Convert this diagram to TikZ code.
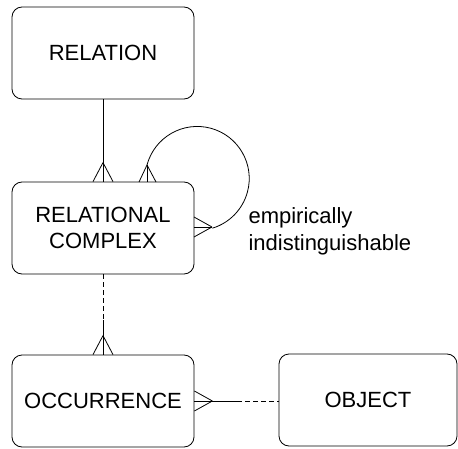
\documentclass[tikz,border=0pt]{standalone}
\usepackage{fontspec}
\setmainfont{Liberation Sans}
\usetikzlibrary{calc,positioning}
\tikzset{%
  entity/.style={draw, rectangle, rounded corners=10bp, line width=0.8bp,
    minimum width=182bp, minimum height=92bp, align=center,
    font=\fontsize{22bp}{26bp}\selectfont},% entity box
  link/.style={line width=0.8bp},% relationship line
  weak/.style={link, dash pattern=on 5bp off 3bp},% dashed part of a line
  note/.style={anchor=west, align=left, font=\fontsize{22bp}{27bp}\selectfont}% loop label
}
% crow's feet: apex at #1, feet pointing down / left
\newcommand*{\footdown}[1]{\draw[link] (#1) -- ++(-10,19) (#1) -- ++(10,19);}
\newcommand*{\footleft}[1]{\draw[link] (#1) -- ++(-18,-10) (#1) -- ++(-18,10);}

\begin{document}
\begin{tikzpicture}[x=1bp, y=-1bp]
\useasboundingbox (0,0) rectangle (458,449);

\node[entity] (relation)   at (103, 53)  {RELATION};
\node[entity] (complex)    at (103, 228) {RELATIONAL\\COMPLEX};
\node[entity] (occurrence) at (103, 401) {OCCURRENCE};
\node[entity, minimum width=178bp] (object) at (368, 400) {OBJECT};

\coordinate (top foot)  at ($(complex.north)+(0,-19)$);
\coordinate (occ foot)  at ($(occurrence.north)+(0,-19)$);
\coordinate (obj foot)  at ($(occurrence.east)+(18,0)$);
\coordinate (loop a)    at (147, 165);
\coordinate (loop b)    at (212, 227);
\coordinate (dash a)    at (103, 320);
\coordinate (dash b)    at (237, 401);

% relation -- complex
\draw[link] (relation) -- (complex);
\footdown{top foot}

% complex -- occurrence
\draw[weak] (complex) -- (dash a);
\draw[link] (dash a) -- (occurrence);
\footdown{occ foot}

% occurrence -- object
\draw[link] (occurrence.east) -- (dash b);
\draw[weak] (dash b) -- (object.west |- dash b);
\footleft{obj foot}

% self loop
\draw[link] (loop a) arc[start angle=-165, end angle=73, radius=52];
\draw[link] (loop a) -- (loop a |- complex.north);
\draw[link] (loop b) -- (loop b -| complex.east);
\draw[link] (loop a) -- ++(-8,17) (loop a) -- ++(9,17);
\footleft{loop b}

\node[note] (label) at (245, 231) {empirically\\indistinguishable};

\end{tikzpicture}
\end{document}
